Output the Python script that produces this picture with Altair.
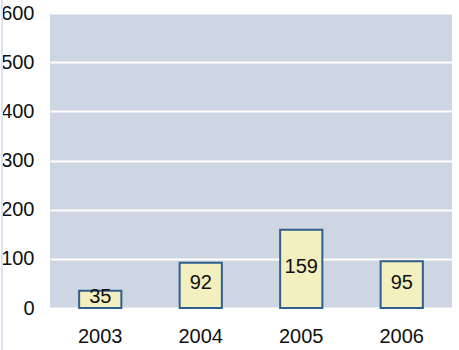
import altair as alt
import pandas as pd

years = ["2003", "2004", "2005", "2006"]
values = [35, 92, 159, 95]

df = pd.DataFrame({"year": years, "value": values})

FONT = "Liberation Sans"
FS = 20

base = alt.Chart(df).encode(
    x=alt.X(
        "year:N",
        sort=years,
        scale=alt.Scale(paddingInner=0.58, paddingOuter=0.29),
        axis=alt.Axis(
            title=None, labelAngle=0, ticks=False, domain=False,
            labelFont=FONT, labelFontSize=FS, labelColor="#111111",
            labelPadding=18,
        ),
    )
)

bars = base.mark_bar(
    fill="#f3efbe", stroke="#2e5f8f", strokeWidth=2
).encode(
    y=alt.Y(
        "value:Q",
        scale=alt.Scale(domain=[0, 600], nice=False),
        axis=alt.Axis(
            title=None, values=[0, 100, 200, 300, 400, 500, 600],
            ticks=False, domain=False, grid=True, gridColor="#ffffff",
            gridWidth=2, labelFont=FONT, labelFontSize=FS,
            labelColor="#111111", labelPadding=16,
        ),
    )
)

labels = base.mark_text(
    font=FONT, fontSize=FS, color="#111111", baseline="middle", dy=-2
).encode(
    y=alt.Y("mid:Q", scale=alt.Scale(domain=[0, 600], nice=False)),
    text="value:Q",
).transform_calculate(mid="datum.value / 2")

edge = alt.Chart(df).mark_rule(color="#dde4ee", strokeWidth=2).encode(
    x=alt.value(-48), y=alt.value(-13), y2=alt.value(337)
)

chart = (
    alt.layer(edge, bars, labels)
    .properties(
        width=402,
        height=295,
        autosize=alt.AutoSizeParams(type="none"),
        padding={"left": 50, "top": 13, "right": 7, "bottom": 42},
        background="#ffffff",
    )
    .configure_view(fill="#cdd6e2", stroke=None)
    .configure_axis(gridOpacity=1)
)

chart.save("out.html", embed_options={"renderer": "svg", "actions": False})
